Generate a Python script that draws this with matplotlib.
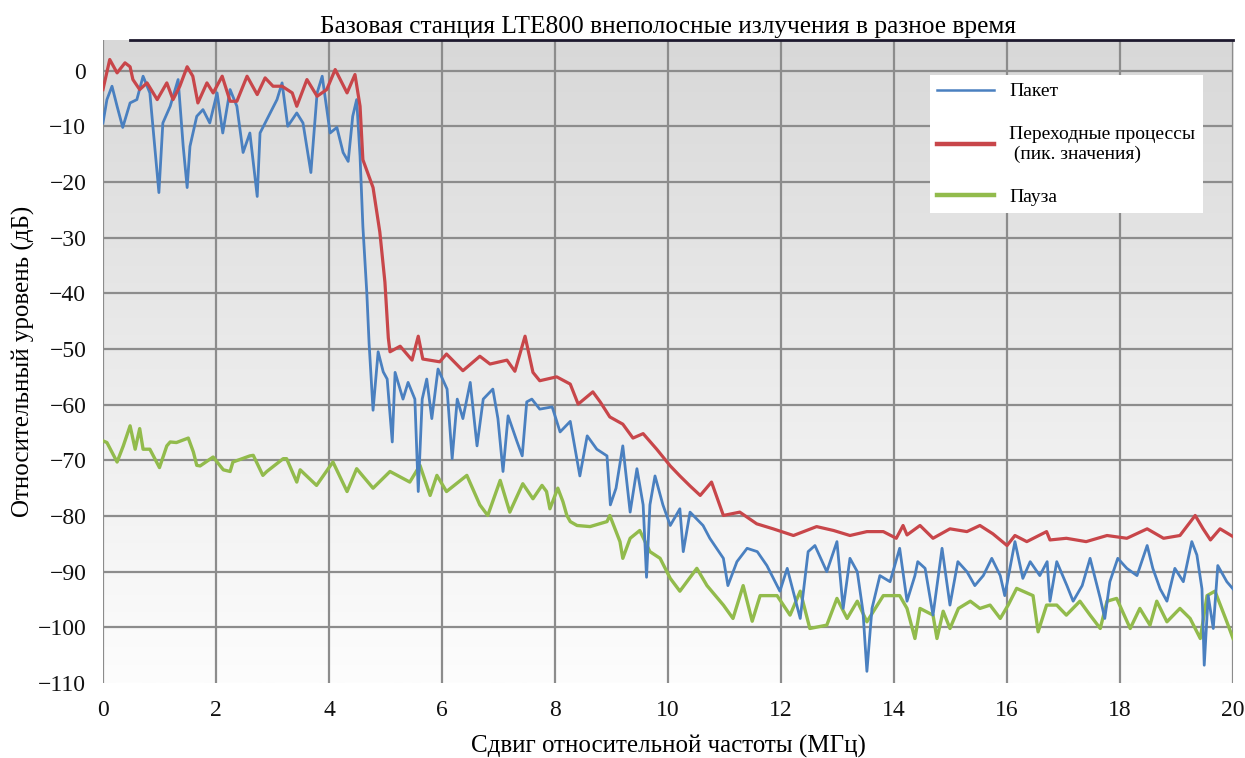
import numpy as np
import matplotlib
matplotlib.use("Agg")
import matplotlib.pyplot as plt

plt.rcParams['font.family'] = ['Liberation Serif', 'DejaVu Serif']
plt.rcParams['axes.unicode_minus'] = True

# Пакет (blue)
x_paket = [0.0, 0.07, 0.16, 0.25, 0.35, 0.48, 0.6, 0.71, 0.83, 0.92, 0.99, 1.06, 1.19, 1.33,
           1.42, 1.49, 1.54, 1.66, 1.77, 1.89, 2.02, 2.12, 2.25, 2.37, 2.48, 2.6, 2.73, 2.78,
           2.9, 3.08, 3.17, 3.27, 3.43, 3.54, 3.68, 3.79, 3.88, 4.02, 4.14, 4.25, 4.34, 4.42,
           4.49, 4.55, 4.6, 4.67, 4.71, 4.76, 4.78, 4.87, 4.96, 5.03, 5.12, 5.17, 5.31, 5.4,
           5.52, 5.58, 5.65, 5.73, 5.82, 5.93, 6.09, 6.18, 6.27, 6.37, 6.5, 6.62, 6.73, 6.9,
           6.99, 7.08, 7.17, 7.33, 7.42, 7.5, 7.59, 7.73, 7.95, 8.09, 8.27, 8.44, 8.57, 8.74,
           8.92, 8.98, 9.08, 9.2, 9.33, 9.45, 9.56, 9.62, 9.68, 9.77, 9.91, 10.04, 10.21, 10.27,
           10.39, 10.62, 10.74, 10.98, 11.06, 11.22, 11.4, 11.58, 11.75, 11.98, 12.11, 12.34,
           12.48, 12.6, 12.81, 12.99, 13.1, 13.22, 13.35, 13.45, 13.52, 13.61, 13.75, 13.93,
           14.1, 14.23, 14.37, 14.42, 14.55, 14.69, 14.85, 14.99, 15.13, 15.29, 15.43, 15.58,
           15.73, 15.88, 15.96, 16.14, 16.28, 16.41, 16.58, 16.71, 16.76, 16.88, 17.06, 17.17,
           17.33, 17.47, 17.65, 17.73, 17.82, 17.96, 18.12, 18.3, 18.48, 18.58, 18.71, 18.83,
           18.97, 19.12, 19.27, 19.36, 19.45, 19.49, 19.56, 19.65, 19.73, 19.89, 20.0]
y_paket = [-9.4, -5.2, -2.8, -6.4, -10.2, -5.8, -5.2, -1.0, -4.0, -14, -21.9, -9.4, -6.4, -1.6,
           -13.6, -21, -13.6, -8.2, -7.0, -9.4, -4.0, -11.2, -3.4, -6.4, -14.7, -11.2, -22.6, -11.2,
           -8.8, -5.2, -2.2, -10, -7.6, -9.4, -18.3, -4.0, -1.0, -11.2, -10.2, -14.7, -16.3, -8.2,
           -5.2, -15.4, -28, -40, -49, -57.7, -61, -50.5, -54.1, -55.4, -66.7, -54.2, -59, -56,
           -59, -75.6, -59, -55.4, -62.5, -53.6, -57.2, -69.7, -59, -62.5, -56, -67.4, -59, -57.2,
           -62.5, -72, -62, -66.7, -69.2, -59.5, -59, -60.8, -60.4, -64.9, -63, -72.8, -65.6, -68,
           -69.2, -78, -75, -67.4, -79.3, -71.5, -78, -91, -78, -72.8, -78, -81.7, -78.7, -86.4,
           -79.3, -81.7, -84, -87.6, -92.5, -88.2, -85.8, -86.4, -88.9, -93.5, -89.4, -98.4,
           -86.4, -85.3, -90, -84.6, -96.6, -87.6, -90, -97.1, -107.9, -96.6, -90.7, -91.8,
           -85.8, -95.3, -90.7, -88.2, -89.4, -97.8, -85.8, -96, -88.2, -90, -92.5, -90.7,
           -87.6, -90.7, -94.3, -84.6, -91.2, -88.2, -90.7, -88.2, -95.3, -88.2, -92.5, -95.3,
           -92.5, -87.6, -94.8, -98.4, -91.8, -87.6, -89.4, -90.7, -85.3, -89.4, -93.1, -95.3,
           -89.4, -91.8, -84.6, -87, -93.1, -106.8, -94.3, -100.2, -88.9, -91.8, -93.1]

# Переходные процессы (red)
x_perekh = [0.0, 0.12, 0.25, 0.39, 0.48, 0.53, 0.65, 0.78, 0.96, 1.13, 1.24, 1.36, 1.49, 1.59,
            1.68, 1.84, 1.95, 2.11, 2.25, 2.37, 2.55, 2.73, 2.87, 3.01, 3.17, 3.35, 3.43, 3.61,
            3.79, 3.96, 4.11, 4.32, 4.46, 4.55, 4.6, 4.78, 4.9, 4.99, 5.05, 5.08, 5.26, 5.47,
            5.58, 5.66, 5.96, 6.08, 6.37, 6.67, 6.85, 7.15, 7.29, 7.47, 7.61, 7.73, 8.03, 8.27,
            8.41, 8.67, 8.8, 8.97, 9.2, 9.38, 9.56, 9.8, 10.04, 10.21, 10.39, 10.57, 10.77,
            10.98, 11.27, 11.57, 11.86, 12.22, 12.63, 12.93, 13.22, 13.52, 13.81, 14.04, 14.16,
            14.23, 14.46, 14.69, 14.99, 15.29, 15.52, 15.75, 16.0, 16.14, 16.35, 16.7, 16.76,
            17.05, 17.4, 17.77, 18.12, 18.48, 18.77, 19.06, 19.33, 19.47, 19.6, 19.77, 20.0]
y_perekh = [-3.4, 2.0, -0.4, 1.4, 0.7, -1.6, -3.4, -2.2, -5.2, -2.2, -5.2, -2.8, 0.7, -1.0,
            -5.8, -2.2, -4.0, -1.0, -5.5, -5.5, -1.0, -4.3, -1.3, -2.8, -2.8, -4.0, -6.4, -1.6,
            -4.6, -3.4, 0.2, -4.0, -0.7, -6.4, -16, -21, -29, -38, -48, -50.5, -49.5, -52,
            -47.7, -51.8, -52.3, -50.9, -53.9, -51.3, -52.7, -52, -54, -47.7, -54.2, -55.7, -55, -56.3,
            -59.9, -57.7, -59.5, -62.2, -63.5, -66, -65.2, -68, -71, -72.8, -74.6, -76.3, -73.9,
            -79.9, -79.3, -81.4, -82.3, -83.5, -81.9, -82.6, -83.5, -82.8, -82.8, -84, -81.7,
            -83.4, -81.7, -84, -82.3, -82.8, -81.7, -83.2, -85.3, -83.5, -84.6, -82.8, -84.3,
            -84, -84.6, -83.5, -84, -82.3, -84, -83.5, -79.9, -82.3, -84.3, -82.3, -83.7]

# Пауза (green)
x_pauza = [0.0, 0.07, 0.25, 0.36, 0.48, 0.57, 0.65, 0.71, 0.83, 1.0, 1.13, 1.19, 1.3, 1.51,
           1.6, 1.66, 1.72, 1.95, 2.13, 2.25, 2.3, 2.6, 2.66, 2.83, 2.9, 3.19, 3.25, 3.43, 3.49,
           3.78, 4.07, 4.32, 4.49, 4.78, 5.08, 5.43, 5.61, 5.79, 5.91, 6.08, 6.44, 6.67, 6.81,
           7.03, 7.2, 7.43, 7.61, 7.77, 7.85, 7.91, 8.05, 8.14, 8.21, 8.27, 8.39, 8.62, 8.92,
           8.97, 9.15, 9.2, 9.33, 9.5, 9.68, 9.86, 10.04, 10.21, 10.51, 10.69, 10.98, 11.15,
           11.33, 11.49, 11.63, 11.93, 12.16, 12.34, 12.51, 12.81, 12.99, 13.17, 13.35, 13.52,
           13.81, 14.1, 14.23, 14.37, 14.46, 14.69, 14.76, 14.87, 14.99, 15.14, 15.35, 15.52,
           15.7, 15.88, 16.02, 16.17, 16.46, 16.55, 16.7, 16.88, 17.05, 17.29, 17.47, 17.65,
           17.77, 17.94, 18.18, 18.35, 18.53, 18.65, 18.83, 19.06, 19.24, 19.42, 19.54, 19.68,
           19.89, 20.0]
y_pauza = [-66.5, -66.8, -70.3, -67.4, -63.8, -68, -64.3, -68, -68, -71.3, -67.4, -66.7, -66.8, -66,
           -68.5, -70.9, -71, -69.4, -71.7, -72, -70.3, -69.2, -69.1, -72.7, -72, -69.7, -69.7, -73.9, -71.7,
           -74.5, -70.3, -75.6, -71.5, -75, -72, -73.9, -70.9, -76.3, -72.7, -75.6, -72.7, -78, -79.9,
           -73.6, -79.3, -74.2, -76.9, -74.5, -75.6, -78.7, -75, -77.4, -79.9, -81, -81.7, -81.9, -81,
           -79.9, -84.6, -87.6, -84, -82.6, -86.4, -87.6, -91.2, -93.5, -89.4, -92.5, -96, -98.4,
           -92.5, -98.9, -94.3, -94.3, -97.8, -93.5, -100.2, -99.6, -94.8, -98.4, -95.3, -99,
           -94.3, -94.3, -96.6, -102, -96.6, -97.8, -102, -97.1, -100.2, -96.6, -95.3, -96.6,
           -96, -98.4, -96, -93, -94.3, -100.8, -96, -96, -97.8, -95.3, -97.8, -100.2,
           -95.3, -94.8, -100.2, -96.6, -99.6, -95.3, -99, -96.6, -98.4, -102, -94.3, -93.5,
           -99, -102]

x_ticks = list(range(0, 21, 2))
y_ticks = list(range(0, -111, -10))
y_top = 5.5

fig = plt.figure(figsize=(12.45, 7.58), dpi=100)
ax = fig.add_axes([0.0827, 0.0989, 0.9077, 0.8483])

# фон: серый сверху, белый снизу
grad = np.linspace(0, 1, 256).reshape(-1, 1)
ax.imshow(grad, extent=[0, 20, -110, y_top], aspect='auto', origin='upper',
          cmap=matplotlib.colors.LinearSegmentedColormap.from_list('bg', ['#d8d8d8', '#fdfdfd']),
          zorder=0)

ax.plot(x_pauza, y_pauza, color='#92bb4c', lw=2.4, zorder=3)
ax.plot(x_paket, y_paket, color='#4a80c0', lw=2.0, zorder=4)
ax.plot(x_perekh, y_perekh, color='#c8464a', lw=2.3, zorder=5)

for xv in x_ticks:
    ax.axvline(xv, color='#8c8c8c', lw=1.6, zorder=1)
for yv in y_ticks[:-1]:
    ax.axhline(yv, color='#8c8c8c', lw=1.6, zorder=1)
ax.axhline(y_top, xmin=0.024, xmax=1, color='#1e1a2e', lw=2.0, zorder=6, clip_on=False)

ax.set_xlim(0, 20)
ax.set_ylim(-110, y_top)
ax.set_xticks(x_ticks)
ax.set_yticks(y_ticks)
ax.tick_params(length=0, labelsize=17, colors='#111111')
ax.tick_params(axis='x', pad=12)
ax.tick_params(axis='y', pad=12)
for s in ax.spines.values():
    s.set_visible(False)

ax.set_title('Базовая станция LTE800 внеполосные излучения в разное время', fontsize=18.3, pad=5)
ax.set_xlabel('Сдвиг относительной частоты (МГц)', fontsize=18, labelpad=10)
ax.set_ylabel('Относительный уровень (дБ)', fontsize=18, labelpad=2)

h_b, = ax.plot([], [], color='#4a80c0', lw=1.8)
h_r, = ax.plot([], [], color='#c8464a', lw=3.2)
h_g, = ax.plot([], [], color='#92bb4c', lw=3.2)
leg = ax.legend([h_b, h_r, h_g], ['Пакет', 'Переходные процессы\n (пик. значения)', 'Пауза'],
                loc='upper right', bbox_to_anchor=(0.9735, 0.9456), borderaxespad=0,
                fontsize=14, frameon=True, fancybox=False, framealpha=1, edgecolor='none',
                handlelength=2.9, handletextpad=0.8, labelspacing=1.3, borderpad=0.4)
leg.set_zorder(7)

plt.savefig('out.png', dpi=100)
